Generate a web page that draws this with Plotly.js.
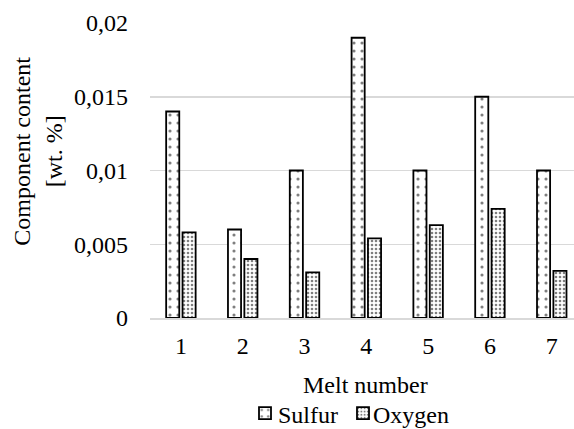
<!DOCTYPE html>
<html><head><meta charset="utf-8">
<script src="https://cdn.plot.ly/plotly-3.0.1.min.js"></script>
<style>body{margin:0;background:#fff}#chart{width:574px;height:429px}</style>
</head><body><div id="chart"></div>
<script>
const categories = ["1","2","3","4","5","6","7"];
const seriesNames = ["Sulfur", "Oxygen"];
const sulfur = [0.014, 0.006, 0.010, 0.019, 0.010, 0.015, 0.010];
const oxygen = [0.0058, 0.0040, 0.0031, 0.0054, 0.0063, 0.0074, 0.0032];
const yTicks = [0, 0.005, 0.01, 0.015, 0.02];
const yTitle = "Component content<br>[wt. %]";
const xTitle = "Melt number";

const fam = "Liberation Serif, Times New Roman, serif";
const font = {family: fam, size: 24, color: "#000"};
const data = [
  {type:"bar", name:"", legend:"legend", x:categories, y:sulfur,
   marker:{color:"#fff", line:{color:"#000", width:1.8},
     pattern:{shape:".", size:8, solidity:0.12, fgcolor:"#000", bgcolor:"#fff", fillmode:"overlay"}}},
  {type:"bar", name:"", legend:"legend2", x:categories, y:oxygen,
   marker:{color:"#fff", line:{color:"#000", width:1.8},
     pattern:{shape:".", size:4, solidity:0.34, fgcolor:"#000", bgcolor:"#fff", fillmode:"overlay"}}}
];
const legBase = {orientation:"h", xref:"container", yref:"container", y:0.036, yanchor:"middle",
  xanchor:"left", font:font, itemwidth:30, bgcolor:"rgba(0,0,0,0)"};
const layout = {
  width:574, height:429,
  margin:{l:150, r:0, t:23, b:111, autoexpand:false},
  font: font,
  separators: ", ",
  paper_bgcolor:"#fff", plot_bgcolor:"#fff",
  bargap:0.47, bargroupgap:0.2,
  xaxis:{type:"category", range:[-0.5, 6.36], showgrid:false, showline:true, linecolor:"#d9d9d9", linewidth:1.5,
    ticks:"", tickfont:font, ticklabelstandoff:6, automargin:false},
  yaxis:{range:[0,0.02], tickvals:yTicks, showgrid:true, gridcolor:"#d9d9d9", gridwidth:1.5,
    zeroline:false, showline:false, ticks:"", tickfont:font, ticklabelstandoff:21, automargin:false},
  annotations:[
    {text:yTitle, textangle:-90, xref:"paper", yref:"paper", x:-0.264, y:0.564,
      xanchor:"center", yanchor:"middle", showarrow:false, font:font},
    {text:xTitle, xref:"paper", yref:"paper", x:(365-150)/424, y:(318-385)/295,
      xanchor:"center", yanchor:"middle", showarrow:false, font:font},
    {text:seriesNames[0], xref:"paper", yref:"paper", x:(276-150)/424, y:(318-415)/295,
      xanchor:"left", yanchor:"middle", showarrow:false, font:font},
    {text:seriesNames[1], xref:"paper", yref:"paper", x:(371-150)/424, y:(318-415)/295,
      xanchor:"left", yanchor:"middle", showarrow:false, font:font}
  ],
  showlegend:true,
  legend: Object.assign({}, legBase, {x:(259-14)/574}),
  legend2: Object.assign({}, legBase, {x:(357-14)/574})
};
Plotly.newPlot("chart", data, layout, {displayModeBar:false, staticPlot:true});
</script></body></html>
